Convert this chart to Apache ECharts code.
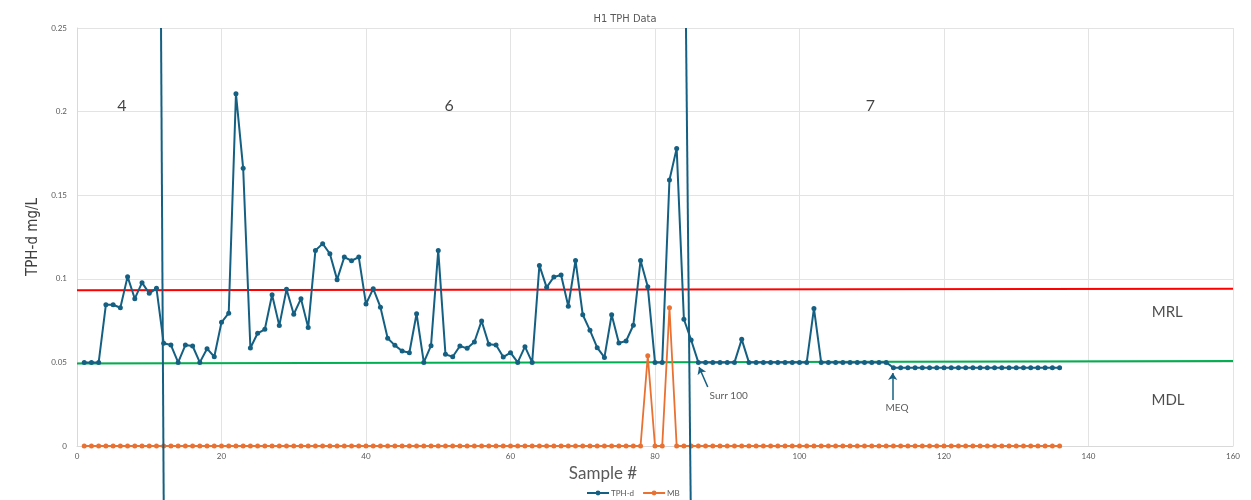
<!DOCTYPE html>
<html>
<head>
<meta charset="utf-8">
<title>H1 TPH Data</title>
<script src="https://cdn.jsdelivr.net/npm/echarts@6/dist/echarts.min.js"></script>
<style>
  html, body { margin: 0; padding: 0; background: #fff; }
  #chart { width: 1251px; height: 500px; }
</style>
</head>
<body>
<div id="chart"></div>
<script>
  // sample numbers 1..136
  let samples = [];
  for (let i = 1; i <= 136; i++) samples.push(i);

  // TPH-d values (mg/L)
  let tphValues = [
    0.05, 0.05, 0.05, 0.0845, 0.0845, 0.0827, 0.1013, 0.0881, 0.0977, 0.0913,
    0.0943, 0.0614, 0.0604, 0.05, 0.0604, 0.0598, 0.05, 0.0582, 0.0534, 0.074,
    0.0794, 0.2107, 0.1661, 0.0586, 0.0674, 0.0698, 0.0905, 0.072, 0.0937, 0.0788,
    0.0881, 0.0708, 0.117, 0.121, 0.115, 0.0995, 0.113, 0.1108, 0.113, 0.0849,
    0.0941, 0.083, 0.0644, 0.0602, 0.0568, 0.0558, 0.0791, 0.05, 0.06, 0.117,
    0.0548, 0.0534, 0.0598, 0.0584, 0.0622, 0.0748, 0.0608, 0.0604, 0.0532, 0.0558,
    0.05, 0.0594, 0.05, 0.108, 0.0949, 0.1011, 0.1023, 0.0836, 0.111, 0.0785,
    0.0692, 0.0588, 0.053, 0.0785, 0.0616, 0.0628, 0.0722, 0.1110, 0.0953, 0.05,
    0.05, 0.1591, 0.178, 0.0758, 0.0634, 0.05, 0.05, 0.05, 0.05, 0.05,
    0.05, 0.0638, 0.05, 0.05, 0.05, 0.05, 0.05, 0.05, 0.05, 0.05,
    0.05, 0.0823, 0.05, 0.05, 0.05, 0.05, 0.05, 0.05, 0.05, 0.05,
    0.05, 0.05, 0.0468, 0.0468, 0.0468, 0.0468, 0.0468, 0.0468, 0.0468, 0.0468,
    0.0468, 0.0468, 0.0468, 0.0468, 0.0468, 0.0468, 0.0468, 0.0468, 0.0468, 0.0468,
    0.0468, 0.0468, 0.0468, 0.0468, 0.0468, 0.0468
  ];

  // MB: zero except two samples
  let mbValues = [];
  for (let i = 1; i <= 136; i++) {
    if (i === 79) mbValues.push(0.054);
    else if (i === 82) mbValues.push(0.0827);
    else mbValues.push(0);
  }

  // reference lines
  let mrlLine = [[0, 0.0932], [160, 0.0941]];
  let mdlLine = [[0, 0.0494], [160, 0.0508]];

  // zone dividers (run past the plot at the bottom)
  let divider1 = [[11.63, 0.25], [12.0, -0.0323]];
  let divider2 = [[84.29, 0.25], [84.94, -0.0323]];

  // text labels on the plot: [x, y, text]
  let zoneLabels = [[6.2, 0.2033, '4'], [51.5, 0.2033, '6'], [109.8, 0.2033, '7']];
  let limitLabels = [[150.9, 0.080, 'MRL'], [151.0, 0.0275, 'MDL']];
  let noteLabels = [[90.2, 0.0299, 'Surr 100'], [113.5, 0.0227, 'MEQ']];
  let arrows = [
    [[87.3, 0.0353], [86.1, 0.0472]],
    [[112.9, 0.0275], [112.9, 0.0437]]
  ];

  let blue = '#156082';
  let orange = '#E97132';
  let grey = '#595959';
  let narrow = "'Liberation Sans Narrow', 'DejaVu Sans Condensed', Roboto, sans-serif";

  function pairs(xs, ys) {
    return xs.map(function (x, i) { return [x, ys[i]]; });
  }

  function textSeries(items, size, color) {
    return {
      type: 'scatter',
      symbolSize: 0,
      silent: true,
      data: items.map(function (d) { return { value: [d[0], d[1]], name: d[2] }; }),
      label: {
        show: true,
        position: 'inside',
        formatter: '{b}',
        color: color,
        fontSize: size,
        fontFamily: 'Lato'
      },
      z: 10
    };
  }

  let myChart = echarts.init(document.getElementById('chart'));
  let option = {
    animation: false,
    title: {
      text: 'H1 TPH Data',
      left: 620,
      top: 9,
      textAlign: 'center',
      textStyle: { fontSize: 11, fontWeight: 'normal', color: grey, fontFamily: narrow }
    },
    legend: {
      data: ['TPH-d', 'MB'],
      left: 581,
      top: 484,
      itemWidth: 22,
      itemHeight: 6,
      itemGap: 8,
      z: 20,
      textStyle: { fontSize: 8, color: grey, fontFamily: 'Lato', padding: [0, 0, 0, -3] }
    },
    grid: { left: 77, right: 18, top: 28, bottom: 54 },
    xAxis: {
      type: 'value',
      min: 0,
      max: 160,
      interval: 20,
      name: 'Sample #',
      nameLocation: 'middle',
      nameGap: 15,
      nameTextStyle: { fontSize: 17, color: grey, fontFamily: 'Lato', padding: [0, 104, 0, 0] },
      axisLine: { lineStyle: { color: '#d9d9d9' } },
      axisTick: { show: false },
      axisLabel: { fontSize: 8, color: grey, margin: 6, fontFamily: 'Lato' },
      splitLine: { lineStyle: { color: '#e3e3e3' } }
    },
    yAxis: {
      type: 'value',
      min: 0,
      max: 0.25,
      interval: 0.05,
      name: 'TPH-d mg/L',
      nameLocation: 'middle',
      nameGap: 36,
      nameTextStyle: { fontSize: 15, color: '#404040', fontFamily: narrow },
      axisLine: { show: true, lineStyle: { color: '#d9d9d9' } },
      axisTick: { show: false },
      axisLabel: { fontSize: 8, color: grey, margin: 10, fontFamily: 'Lato' },
      splitLine: { lineStyle: { color: '#e3e3e3' } }
    },
    series: [
      {
        name: 'MRL', type: 'line', data: mrlLine, symbol: 'none', silent: true,
        lineStyle: { color: '#ff0000', width: 2 }, itemStyle: { color: '#ff0000' }, z: 2
      },
      {
        name: 'MDL', type: 'line', data: mdlLine, symbol: 'none', silent: true,
        lineStyle: { color: '#00B050', width: 2 }, itemStyle: { color: '#00B050' }, z: 2
      },
      {
        name: 'MB', type: 'line', data: pairs(samples, mbValues),
        symbol: 'circle', symbolSize: 5,
        lineStyle: { color: orange, width: 1.8 }, itemStyle: { color: orange }, z: 3
      },
      {
        name: 'TPH-d', type: 'line', data: pairs(samples, tphValues),
        symbol: 'circle', symbolSize: 5,
        lineStyle: { color: blue, width: 2 }, itemStyle: { color: blue }, z: 4
      },
      {
        name: 'div1', type: 'line', data: divider1, symbol: 'none', clip: false, silent: true,
        lineStyle: { color: blue, width: 2 }, z: 5
      },
      {
        name: 'div2', type: 'line', data: divider2, symbol: 'none', clip: false, silent: true,
        lineStyle: { color: blue, width: 2 }, z: 5
      },
      {
        name: 'arrows', type: 'lines', coordinateSystem: 'cartesian2d', polyline: false,
        symbol: ['none', 'arrow'], symbolSize: 7, silent: true,
        lineStyle: { color: blue, width: 1.5, opacity: 1 },
        data: arrows.map(function (a) { return { coords: a }; }),
        z: 6
      },
      textSeries(zoneLabels, 16, '#111'),
      textSeries(limitLabels, 15, '#222'),
      textSeries(noteLabels, 10, '#333')
    ]
  };
  if (option && typeof option === 'object') {
    myChart.setOption(option, true);
  }
</script>
</body>
</html>
